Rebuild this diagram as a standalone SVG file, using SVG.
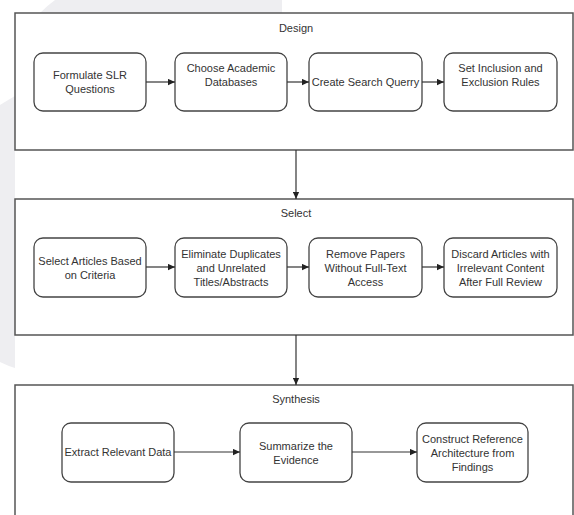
<svg xmlns="http://www.w3.org/2000/svg" width="574" height="515" viewBox="0 0 574 515">
<defs>
<marker id="arr" viewBox="0 0 10 10" refX="10" refY="5" markerWidth="7" markerHeight="7" markerUnits="userSpaceOnUse" orient="auto">
<path d="M0,0.5 L10,5 L0,9.5 Z" fill="#222"/>
</marker>
<style>
.bg{fill:#eeeef1}
.cont{fill:#ffffff;stroke:#555;stroke-width:1.5}
.box{fill:#ffffff;stroke:#444;stroke-width:1.3}
.t{font-family:"Liberation Sans",Arial,sans-serif;font-size:11px;fill:#333;text-anchor:middle}
.c{fill:none;stroke:#333;stroke-width:1.2;marker-end:url(#arr)}
</style>
</defs>
<rect width="574" height="515" fill="#ffffff"/>
<path class="bg" d="M0,105 Q8,100 15,96 L15,368 Q8,366 0,362 Z"/>
<path class="bg" d="M55,0 L282,0 L282,13 L40,13 Q48,5 55,0 Z"/>

<g id="design">
<rect class="cont" x="15" y="13" width="558" height="137"/>
<text class="t" x="296" y="32">Design</text>
</g>
<g id="select">
<rect class="cont" x="15" y="199" width="558" height="136"/>
<text class="t" x="296" y="217">Select</text>
</g>
<g id="synthesis">
<rect class="cont" x="15" y="385" width="558" height="140"/>
<text class="t" x="296" y="403">Synthesis</text>
</g>

<g id="n1"><rect class="box" x="34" y="53" width="112" height="58" rx="9"/>
<text class="t" x="90" y="79">Formulate SLR</text><text class="t" x="90" y="93">Questions</text></g>
<g id="n2"><rect class="box" x="175" y="53" width="112" height="58" rx="9"/>
<text class="t" x="231" y="72">Choose Academic</text><text class="t" x="231" y="86">Databases</text></g>
<g id="n3"><rect class="box" x="309" y="53" width="113" height="58" rx="9"/>
<text class="t" x="365.5" y="86">Create Search Querry</text></g>
<g id="n4"><rect class="box" x="444" y="53" width="113" height="58" rx="9"/>
<text class="t" x="500.5" y="72">Set Inclusion and</text><text class="t" x="500.5" y="86">Exclusion Rules</text></g>

<g id="n5"><rect class="box" x="34" y="238" width="112" height="59" rx="9"/>
<text class="t" x="90" y="265">Select Articles Based</text><text class="t" x="90" y="279">on Criteria</text></g>
<g id="n6"><rect class="box" x="175" y="238" width="112" height="59" rx="9"/>
<text class="t" x="231" y="258">Eliminate Duplicates</text><text class="t" x="231" y="272">and Unrelated</text><text class="t" x="231" y="286">Titles/Abstracts</text></g>
<g id="n7"><rect class="box" x="309" y="238" width="113" height="59" rx="9"/>
<text class="t" x="365.5" y="258">Remove Papers</text><text class="t" x="365.5" y="272">Without Full-Text</text><text class="t" x="365.5" y="286">Access</text></g>
<g id="n8"><rect class="box" x="444" y="238" width="113" height="59" rx="9"/>
<text class="t" x="500.5" y="258">Discard Articles with</text><text class="t" x="500.5" y="272">Irrelevant Content</text><text class="t" x="500.5" y="286">After Full Review</text></g>

<g id="n9"><rect class="box" x="62" y="423" width="112" height="59" rx="9"/>
<text class="t" x="118" y="456">Extract Relevant Data</text></g>
<g id="n10"><rect class="box" x="240" y="423" width="112" height="59" rx="9"/>
<text class="t" x="296" y="450">Summarize the</text><text class="t" x="296" y="464">Evidence</text></g>
<g id="n11"><rect class="box" x="417" y="423" width="111" height="59" rx="9"/>
<text class="t" x="472.5" y="443">Construct Reference</text><text class="t" x="472.5" y="457">Architecture from</text><text class="t" x="472.5" y="471">Findings</text></g>

<g id="connectors">
<line class="c" x1="146" y1="82" x2="175" y2="82"/>
<line class="c" x1="287" y1="82" x2="309" y2="82"/>
<line class="c" x1="422" y1="82" x2="444" y2="82"/>
<line class="c" x1="146" y1="267" x2="175" y2="267"/>
<line class="c" x1="287" y1="267" x2="309" y2="267"/>
<line class="c" x1="422" y1="267" x2="444" y2="267"/>
<line class="c" x1="174" y1="452" x2="240" y2="452"/>
<line class="c" x1="352" y1="452" x2="417" y2="452"/>
<line class="c" x1="296" y1="150" x2="296" y2="199"/>
<line class="c" x1="296" y1="335" x2="296" y2="385"/>
</g>
</svg>
